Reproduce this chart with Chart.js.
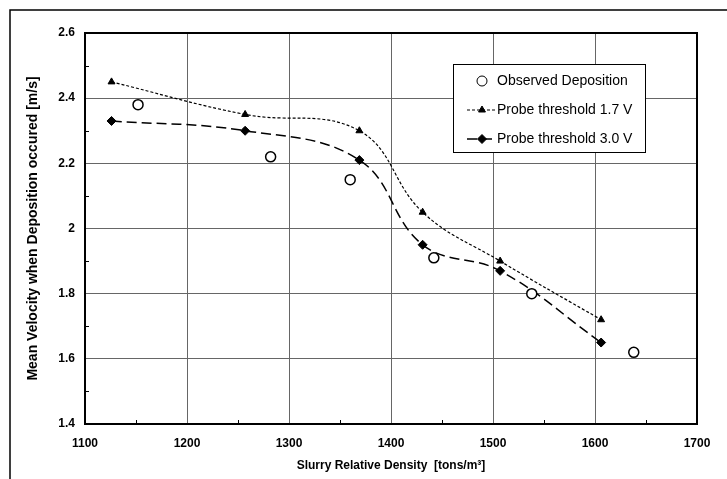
<!DOCTYPE html>
<html>
<head>
<meta charset="utf-8">
<script src="https://cdn.jsdelivr.net/npm/chart.js@4.4.1/dist/chart.umd.min.js"></script>
<style>
  html, body { margin: 0; padding: 0; background: #fff; }
  #wrap { width: 727px; height: 479px; position: relative; }
</style>
</head>
<body>
<div id="wrap"><canvas id="c" width="727" height="479"></canvas></div>
<script>
// values
const observedDensity = [1152, 1282, 1360, 1442, 1538, 1638];
const observedVelocity = [2.38, 2.22, 2.15, 1.91, 1.80, 1.62];

const probeDensity = [1126, 1257, 1369, 1431, 1507, 1606];
const probe17Velocity = [2.45, 2.35, 2.30, 2.05, 1.90, 1.72];
const probe30Velocity = [2.33, 2.30, 2.21, 1.95, 1.87, 1.65];

const xTicks = [1100, 1200, 1300, 1400, 1500, 1600, 1700];
const yTicks = [1.4, 1.6, 1.8, 2, 2.2, 2.4, 2.6];

function pts(xs, ys) {
  return xs.map((x, i) => ({ x: x, y: ys[i] }));
}

const FONT = '"Liberation Sans", Arial, sans-serif';

// plot frame, inward minor ticks, outer border
const framePlugin = {
  id: 'frame',
  afterDraw(chart) {
    const { ctx, chartArea: a, scales } = chart;
    ctx.save();
    ctx.strokeStyle = '#000';
    ctx.lineWidth = 1;
    // minor ticks
    ctx.beginPath();
    for (let v = 1150; v < 1700; v += 100) {
      const px = Math.round(scales.x.getPixelForValue(v)) + 0.5;
      ctx.moveTo(px, a.bottom);
      ctx.lineTo(px, a.bottom - 4);
    }
    for (let v = 1.5; v < 2.6; v += 0.2) {
      const py = Math.round(scales.y.getPixelForValue(v)) + 0.5;
      ctx.moveTo(a.left, py);
      ctx.lineTo(a.left + 4, py);
    }
    ctx.stroke();
    // frame
    ctx.lineWidth = 2;
    ctx.strokeRect(a.left, a.top, a.right - a.left, a.bottom - a.top);
    // outer border (left and top)
    ctx.lineWidth = 1.5;
    ctx.beginPath();
    ctx.moveTo(10, 479);
    ctx.lineTo(10, 10);
    ctx.lineTo(727, 10);
    ctx.stroke();
    ctx.restore();
  }
};

// legend box drawn inside the plot, like the original
const legendPlugin = {
  id: 'boxLegend',
  afterDraw(chart) {
    const { ctx } = chart;
    const box = { x: 453, y: 64, w: 192, h: 88 };
    ctx.save();
    ctx.fillStyle = '#fff';
    ctx.fillRect(box.x, box.y, box.w, box.h);
    ctx.strokeStyle = '#000';
    ctx.lineWidth = 1;
    ctx.strokeRect(box.x + 0.5, box.y + 0.5, box.w, box.h);
    ctx.font = '14px ' + FONT;
    ctx.textBaseline = 'middle';
    const rowY = [81, 110, 139];
    chart.data.datasets.forEach((ds, i) => {
      const y = rowY[i];
      const cx = 482;
      if (ds.showLine !== false) {
        ctx.save();
        ctx.strokeStyle = '#000';
        ctx.lineWidth = ds.borderWidth;
        ctx.setLineDash(ds.borderDash || []);
        ctx.beginPath();
        ctx.moveTo(467, y);
        ctx.lineTo(496, y);
        ctx.stroke();
        ctx.restore();
      }
      Chart.helpers.drawPoint(ctx, {
        pointStyle: ds.pointStyle,
        radius: ds.pointRadius,
        borderWidth: ds.pointBorderWidth || 1,
        rotation: 0
      }, cx, y);
      ctx.fillStyle = '#000';
      ctx.fillText(ds.label, 497, y);
    });
    ctx.restore();
  }
};

new Chart(document.getElementById('c'), {
  type: 'scatter',
  data: {
    datasets: [
      {
        label: 'Observed Deposition',
        data: pts(observedDensity, observedVelocity),
        showLine: false,
        pointStyle: 'circle',
        pointRadius: 5,
        pointBorderWidth: 1.5,
        pointBackgroundColor: '#fff',
        pointBorderColor: '#000',
        backgroundColor: '#fff',
        borderColor: '#000'
      },
      {
        label: 'Probe threshold 1.7 V',
        data: pts(probeDensity, probe17Velocity),
        showLine: true,
        borderColor: '#000',
        backgroundColor: '#000',
        borderWidth: 1.2,
        borderDash: [3, 2],
        tension: 0.4,
        pointStyle: 'triangle',
        pointRadius: 4,
        pointBorderWidth: 1,
        pointBackgroundColor: '#000',
        pointBorderColor: '#000'
      },
      {
        label: 'Probe threshold 3.0 V',
        data: pts(probeDensity, probe30Velocity),
        showLine: true,
        borderColor: '#000',
        backgroundColor: '#000',
        borderWidth: 1.5,
        borderDash: [10, 5],
        tension: 0.4,
        pointStyle: 'rectRot',
        pointRadius: 4.5,
        pointBorderWidth: 1,
        pointBackgroundColor: '#000',
        pointBorderColor: '#000'
      }
    ]
  },
  options: {
    responsive: false,
    animation: false,
    layout: { padding: { left: 0, top: 33, right: 30, bottom: 0 } },
    plugins: {
      legend: { display: false },
      tooltip: { enabled: false }
    },
    scales: {
      x: {
        type: 'linear',
        min: 1100,
        max: 1700,
        afterBuildTicks(scale) { scale.ticks = xTicks.map(v => ({ value: v })); },
        afterFit(scale) { scale.height = 55; },
        grid: { color: '#666', lineWidth: 1, drawTicks: false },
        border: { color: '#000', width: 2 },
        ticks: {
          padding: 12,
          color: '#000',
          font: { family: FONT, size: 12, weight: 'bold' },
          callback: v => String(v)
        },
        title: {
          display: true,
          text: 'Slurry Relative Density  [tons/m\u00b3]',
          color: '#000',
          font: { family: FONT, size: 12, weight: 'bold' },
          padding: { top: 0, bottom: 6 }
        }
      },
      y: {
        type: 'linear',
        min: 1.4,
        max: 2.6,
        afterBuildTicks(scale) { scale.ticks = yTicks.map(v => ({ value: v })); },
        afterFit(scale) { scale.width = 85; },
        grid: { color: '#666', lineWidth: 1, drawTicks: false },
        border: { color: '#000', width: 2 },
        ticks: {
          padding: 10,
          color: '#000',
          font: { family: FONT, size: 12, weight: 'bold' },
          callback: v => String(Math.round(v * 10) / 10)
        },
        title: {
          display: true,
          text: 'Mean Velocity when Deposition occured [m/s]',
          color: '#000',
          font: { family: FONT, size: 14, weight: 'bold' },
          padding: { top: 25, bottom: 0 }
        }
      }
    }
  },
  plugins: [framePlugin, legendPlugin]
});
</script>
</body>
</html>
